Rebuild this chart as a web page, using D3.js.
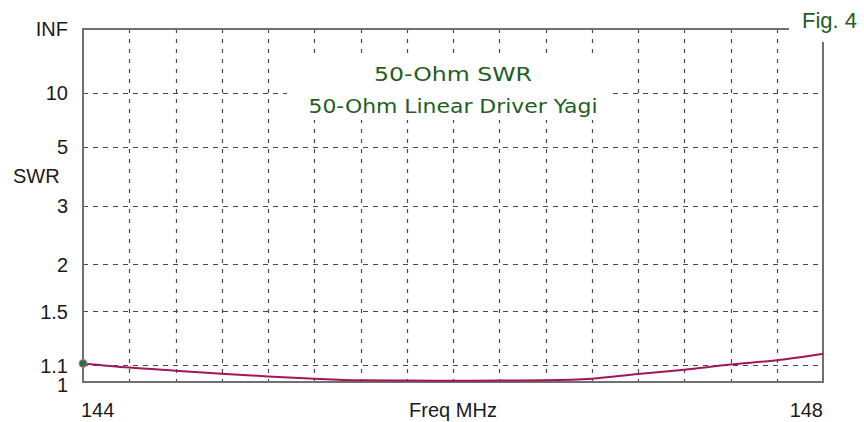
<!DOCTYPE html>
<html>
<head>
<meta charset="utf-8">
<script src="https://cdn.jsdelivr.net/npm/d3@7"></script>
<style>
  html, body { margin: 0; padding: 0; background: #fff; }
  svg { display: block; }
  text { font-family: "Liberation Sans", Arial, sans-serif; }
</style>
</head>
<body>
<svg id="chart" width="864" height="422"></svg>
<script>
// Frequency sweep (MHz) and the computed 50-ohm SWR at each step
const freqs = [144.00, 144.25, 144.50, 144.75, 145.00, 145.25, 145.50, 145.75, 146.00,
               146.25, 146.50, 146.75, 147.00, 147.25, 147.50, 147.75, 148.00];
const swr   = [1.111, 1.085, 1.066, 1.048, 1.032, 1.019, 1.010, 1.008, 1.007,
               1.008, 1.010, 1.019, 1.046, 1.072, 1.104, 1.131, 1.174];

// SWR axis marks (INF at the top) and the grid frequencies
const swrTicks  = [1, 1.1, 1.5, 2, 3, 5, 10, Infinity];
const swrLabels = ["1", "1.1", "1.5", "2", "3", "5", "10", "INF"];
const swrGrid   = [1.1, 1.5, 2, 3, 5, 10];
const freqGrid  = [144.25, 144.5, 144.75, 145, 145.25, 145.5, 145.75, 146,
                   146.25, 146.5, 146.75, 147, 147.25, 147.5, 147.75];
const freqEndLabels = ["144", "148"];

const titleLines = ["50-Ohm SWR", "50-Ohm Linear Driver Yagi"];
const figLabel = "Fig. 4";

// Plot box
const L = 83, R = 823, T = 29, B = 382;

const svg = d3.select("#chart");

// SWR is placed on a reflection-coefficient scale: |G| = (s-1)/(s+1)
const gamma = s => (s === Infinity ? 1 : (s - 1) / (s + 1));
const x = d3.scaleLinear().domain([144, 148]).range([L, R]);
const g = d3.scaleLinear().domain([0, 1]).range([B, T]);
const y = s => g(gamma(s));

const gridColor = "#4a4a4a";
const frameColor = "#707070";
const green = "#1f5e1f";

// Dashed grid
svg.append("g").selectAll("line").data(swrGrid).join("line")
  .attr("x1", L).attr("x2", R)
  .attr("y1", d => Math.round(y(d)) + 0.5).attr("y2", d => Math.round(y(d)) + 0.5)
  .attr("stroke", gridColor).attr("stroke-width", 1.2)
  .attr("stroke-dasharray", "5,5");

svg.append("g").selectAll("line").data(freqGrid).join("line")
  .attr("x1", d => Math.round(x(d)) + 0.5).attr("x2", d => Math.round(x(d)) + 0.5)
  .attr("y1", T).attr("y2", B)
  .attr("stroke", gridColor).attr("stroke-width", 1.2)
  .attr("stroke-dasharray", "4,6");

// Title block sits on a white panel over the grid
const titleX = (L + R) / 2;
svg.append("rect")
  .attr("x", 287).attr("y", 56).attr("width", 324).attr("height", 64)
  .attr("fill", "#fff");
const titleWidths = [158, 289];
svg.append("g").selectAll("text").data(titleLines).join("text")
  .attr("x", titleX)
  .attr("y", (d, i) => 81 + i * 32)
  .attr("text-anchor", "middle")
  .style("font-family", "'DejaVu Sans', Verdana, sans-serif")
  .attr("font-size", 20)
  .attr("fill", green)
  .attr("textLength", (d, i) => titleWidths[i])
  .attr("lengthAdjust", "spacingAndGlyphs")
  .text(d => d);

// Frame (top edge stops short of the figure label)
const frame = svg.append("g").attr("stroke", frameColor).attr("stroke-width", 2).attr("fill", "none");
frame.append("line").attr("x1", L).attr("x2", 789).attr("y1", T).attr("y2", T);
frame.append("line").attr("x1", L).attr("x2", L).attr("y1", T - 1).attr("y2", B + 1);
frame.append("line").attr("x1", L - 1).attr("x2", R + 1).attr("y1", B).attr("y2", B);
frame.append("line").attr("x1", R).attr("x2", R).attr("y1", 42).attr("y2", B + 1);

svg.append("text")
  .attr("x", 802).attr("y", 28)
  .attr("font-size", 22)
  .attr("fill", green)
  .text(figLabel);

// SWR axis labels
const yAxis = d3.axisLeft(g)
  .tickValues(swrTicks.map(gamma))
  .tickFormat((d, i) => swrLabels[i])
  .tickSize(0)
  .tickPadding(15);
const ya = svg.append("g").attr("transform", `translate(${L},0)`).call(yAxis);
ya.select(".domain").remove();
ya.selectAll("text")
  .style("font-family", "'Liberation Sans', Arial, sans-serif")
  .attr("font-size", 20)
  .attr("fill", "#1a1a1a")
  .attr("dy", (d, i) => (i === 0 ? "0.45em" : "0.34em"));

svg.append("text")
  .attr("x", 13).attr("y", 183)
  .attr("font-size", 20)
  .attr("fill", "#1a1a1a")
  .text("SWR");

// Frequency axis labels
svg.append("text")
  .attr("x", x(144) - 2).attr("y", 417)
  .attr("font-size", 20).attr("fill", "#1a1a1a")
  .text(freqEndLabels[0]);
svg.append("text")
  .attr("x", x(148)).attr("y", 417)
  .attr("text-anchor", "end")
  .attr("font-size", 20).attr("fill", "#1a1a1a")
  .text(freqEndLabels[1]);
svg.append("text")
  .attr("x", titleX).attr("y", 417)
  .attr("text-anchor", "middle")
  .attr("font-size", 20).attr("fill", "#1a1a1a")
  .text("Freq MHz");

// SWR curve
const line = d3.line()
  .x((d, i) => x(freqs[i]))
  .y(d => y(d))
  .curve(d3.curveMonotoneX);
svg.append("path")
  .datum(swr)
  .attr("d", line)
  .attr("fill", "none")
  .attr("stroke", "#9e1858")
  .attr("stroke-width", 2);

// Start-of-sweep marker
svg.append("circle")
  .attr("cx", x(freqs[0])).attr("cy", y(swr[0]))
  .attr("r", 4)
  .attr("fill", "#1f7a2a")
  .attr("stroke", "#e060e0")
  .attr("stroke-width", 1);
</script>
</body>
</html>
